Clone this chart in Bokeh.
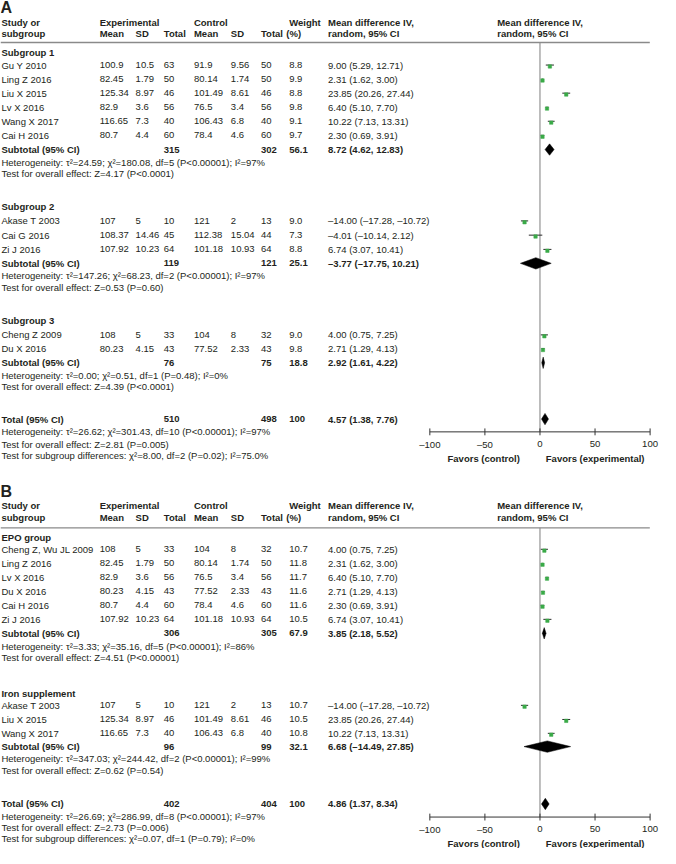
from bokeh.plotting import figure
from bokeh.models import Range1d, ColumnDataSource
from bokeh.embed import file_html
from bokeh.resources import INLINE
from bokeh.core.properties import value

# ---------------- DATA: panel A ----------------
a_groups = ["Subgroup 1", "Subgroup 2", "Subgroup 3"]
a_study = ["Gu Y 2010", "Ling Z 2016", "Liu X 2015", "Lv X 2016", "Wang X 2017", "Cai H 2016",
           "Akase T 2003", "Cai G 2016", "Zi J 2016", "Cheng Z 2009", "Du X 2016"]
a_exp_mean = [100.9, 82.45, 125.34, 82.9, 116.65, 80.7, 107, 108.37, 107.92, 108, 80.23]
a_exp_sd = [10.5, 1.79, 8.97, 3.6, 7.3, 4.4, 5, 14.46, 10.23, 5, 4.15]
a_exp_n = [63, 50, 46, 56, 40, 60, 10, 45, 64, 33, 43]
a_ctl_mean = [91.9, 80.14, 101.49, 76.5, 106.43, 78.4, 121, 112.38, 101.18, 104, 77.52]
a_ctl_sd = [9.56, 1.74, 8.61, 3.4, 6.8, 4.6, 2, 15.04, 10.93, 8, 2.33]
a_ctl_n = [50, 50, 46, 56, 40, 60, 13, 44, 64, 32, 43]
a_weight = [8.8, 9.9, 8.8, 9.8, 9.1, 9.7, 9.0, 7.3, 8.8, 9.0, 9.8]
a_md = [9.00, 2.31, 23.85, 6.40, 10.22, 2.30, -14.00, -4.01, 6.74, 4.00, 2.71]
a_lo = [5.29, 1.62, 20.26, 5.10, 7.13, 0.69, -17.28, -10.14, 3.07, 0.75, 1.29]
a_hi = [12.71, 3.00, 27.44, 7.70, 13.31, 3.91, -10.72, 2.12, 10.41, 7.25, 4.13]
a_sub_exp_n = [315, 119, 76]
a_sub_ctl_n = [302, 121, 75]
a_sub_weight = [56.1, 25.1, 18.8]
a_sub_md = [8.72, -3.77, 2.92]
a_sub_lo = [4.62, -17.75, 1.61]
a_sub_hi = [12.83, 10.21, 4.22]
a_sub_het = ["Heterogeneity: τ²=24.59; χ²=180.08, df=5 (P<0.00001); I²=97%",
             "Heterogeneity: τ²=147.26; χ²=68.23, df=2 (P<0.00001); I²=97%",
             "Heterogeneity: τ²=0.00; χ²=0.51, df=1 (P=0.48); I²=0%"]
a_sub_z = ["Test for overall effect: Z=4.17 (P<0.0001)",
           "Test for overall effect: Z=0.53 (P=0.60)",
           "Test for overall effect: Z=4.39 (P<0.0001)"]
a_tot = [510, 498, 100, 4.57, 1.38, 7.76]
a_tot_notes = ["Heterogeneity: τ²=26.62; χ²=301.43, df=10 (P<0.00001); I²=97%",
               "Test for overall effect: Z=2.81 (P=0.005)",
               "Test for subgroup differences: χ²=8.00, df=2 (P=0.02); I²=75.0%"]

# ---------------- DATA: panel B ----------------
b_groups = ["EPO group", "Iron supplement"]
b_study = ["Cheng Z, Wu JL 2009", "Ling Z 2016", "Lv X 2016", "Du X 2016", "Cai H 2016", "Zi J 2016",
           "Akase T 2003", "Liu X 2015", "Wang X 2017"]
b_exp_mean = [108, 82.45, 82.9, 80.23, 80.7, 107.92, 107, 125.34, 116.65]
b_exp_sd = [5, 1.79, 3.6, 4.15, 4.4, 10.23, 5, 8.97, 7.3]
b_exp_n = [33, 50, 56, 43, 60, 64, 10, 46, 40]
b_ctl_mean = [104, 80.14, 76.5, 77.52, 78.4, 101.18, 121, 101.49, 106.43]
b_ctl_sd = [8, 1.74, 3.4, 2.33, 4.6, 10.93, 2, 8.61, 6.8]
b_ctl_n = [32, 50, 56, 43, 60, 64, 13, 46, 40]
b_weight = [10.7, 11.8, 11.7, 11.6, 11.6, 10.5, 10.7, 10.5, 10.8]
b_md = [4.00, 2.31, 6.40, 2.71, 2.30, 6.74, -14.00, 23.85, 10.22]
b_lo = [0.75, 1.62, 5.10, 1.29, 0.69, 3.07, -17.28, 20.26, 7.13]
b_hi = [7.25, 3.00, 7.70, 4.13, 3.91, 10.41, -10.72, 27.44, 13.31]
b_sub_exp_n = [306, 96]
b_sub_ctl_n = [305, 99]
b_sub_weight = [67.9, 32.1]
b_sub_md = [3.85, 6.68]
b_sub_lo = [2.18, -14.49]
b_sub_hi = [5.52, 27.85]
b_sub_het = ["Heterogeneity: τ²=3.33; χ²=35.16, df=5 (P<0.00001); I²=86%",
             "Heterogeneity: τ²=347.03; χ²=244.42, df=2 (P<0.00001); I²=99%"]
b_sub_z = ["Test for overall effect: Z=4.51 (P<0.00001)",
           "Test for overall effect: Z=0.62 (P=0.54)"]
b_tot = [402, 404, 100, 4.86, 1.37, 8.34]
b_tot_notes = ["Heterogeneity: τ²=26.69; χ²=286.99, df=8 (P<0.00001); I²=97%",
               "Test for overall effect: Z=2.73 (P=0.006)",
               "Test for subgroup differences: χ²=0.07, df=1 (P=0.79); I²=0%"]

axis_ticks = [-100, -50, 0, 50, 100]
favors = ["Favors (control)", "Favors (experimental)"]

# ---------------- LAYOUT (reference pixel units) ----------------
FONT = "Liberation Sans"
TXT = "#231f20"
GREEN = "#3aaa48"
GRAY = "#8a8a8a"
FS = "9.5px"
COL = dict(study=1, em=102, esd=139, en=168, cm=199, csd=237, cn=268, w=297, pct=294, md=337, fh=511)
X0, K = 555.0, 1.133   # forest: zero position and px per unit
XR, YR = 679, 863

LAY_A = dict(letter=7, h1=22.7, h2=33.5, rule=42.7,
             groups=[52.7, 210, 325.3],
             studies=[65.7, 80, 94.3, 108.6, 122.9, 137.2, 224.3, 238.8, 253.3, 340.3, 354.3],
             subs=[151.7, 267.5, 368.7], het=[165.3, 280, 381.7], z=[176.5, 291.7, 392.7],
             total=426, notes=[438.7, 451.5, 463.5], axis=439)
LAY_B = dict(letter=500, h1=514, h2=526, rule=536.7,
             groups=[546.5, 705],
             studies=[558.5, 572.8, 587, 601.3, 615.5, 629.8, 717.3, 731.7, 745.8],
             subs=[644, 759.3], het=[657, 771.7], z=[668.7, 783.3],
             total=817.7, notes=[830, 841.7, 853.3], axis=831)

p = figure(width=660, height=848, x_range=Range1d(0, XR), y_range=Range1d(YR, 0),
           output_backend="svg", toolbar_location=None, min_border=0,
           x_axis_location=None, y_axis_location=None)
p.grid.visible = False
p.outline_line_color = None
p.extra_x_ranges = {"md": Range1d((0 - X0) / K, (XR - X0) / K)}


def txt(xs, ys, texts, bold=False, align="left", size=FS, rng="default"):
    src = ColumnDataSource(dict(x=list(xs), y=list(ys), t=list(texts)))
    p.text(x="x", y="y", text="t", source=src, text_font=value(FONT), text_font_size=value(size),
           text_font_style="bold" if bold else "normal", text_align=align, text_baseline="middle",
           text_color=TXT, x_range_name=rng)


def fmd(v):
    return f"{v:.2f}".replace("-", "–")


def fci(m, lo, hi):
    return f"{fmd(m)} ({fmd(lo)}, {fmd(hi)})"


def diamonds(ms, los, his, ys, h=5.8):
    xs = [[lo, m, hi, m] for m, lo, hi in zip(ms, los, his)]
    yy = [[y, y - h, y, y + h] for y in ys]
    p.patches(xs=xs, ys=yy, fill_color="black", line_color="black", line_width=0.5, x_range_name="md")


def panel(letter, L, groups, study, em, esd, en, cm, csd, cn, w, md, lo, hi,
          s_en, s_cn, s_w, s_md, s_lo, s_hi, s_het, s_z, tot, notes):
    txt([0], [L["letter"]], [letter], bold=True, size="16px")
    h1, h2 = L["h1"], L["h2"]
    txt([COL["study"], COL["em"], COL["cm"], COL["w"], COL["md"], COL["fh"]], [h1] * 6,
        ["Study or", "Experimental", "Control", "Weight", "Mean difference IV,", "Mean difference IV,"], bold=True)
    txt([COL["study"], COL["em"], COL["esd"], COL["en"], COL["cm"], COL["csd"], COL["cn"], COL["pct"], COL["md"], COL["fh"]],
        [h2] * 10, ["subgroup", "Mean", "SD", "Total", "Mean", "SD", "Total", "(%)", "random, 95% CI", "random, 95% CI"],
        bold=True)
    p.segment(x0=[0], x1=[668], y0=[L["rule"]], y1=[L["rule"]], line_color=GRAY, line_width=1.4)
    txt([COL["study"]] * len(groups), L["groups"], groups, bold=True)
    ys = L["studies"]
    n = len(study)
    txt([COL["study"]] * n, ys, study)
    for key, vals in (("em", em), ("esd", esd), ("en", en), ("cm", cm), ("csd", csd), ("cn", cn)):
        txt([COL[key]] * n, ys, [str(v) for v in vals])
    txt([COL["w"]] * n, ys, [f"{v:.1f}" for v in w])
    txt([COL["md"]] * n, ys, [fci(a, b, c) for a, b, c in zip(md, lo, hi)])
    # subtotals
    sy = L["subs"]
    k = len(sy)
    txt([COL["study"]] * k, sy, ["Subtotal (95% CI)"] * k, bold=True)
    txt([COL["en"]] * k, sy, [str(v) for v in s_en], bold=True)
    txt([COL["cn"]] * k, sy, [str(v) for v in s_cn], bold=True)
    txt([COL["w"]] * k, sy, [f"{v:.1f}" for v in s_w], bold=True)
    txt([COL["md"]] * k, sy, [fci(a, b, c) for a, b, c in zip(s_md, s_lo, s_hi)], bold=True)
    txt([COL["study"]] * k, L["het"], s_het)
    txt([COL["study"]] * k, L["z"], s_z)
    # total
    ty = L["total"]
    txt([COL["study"], COL["en"], COL["cn"], COL["w"], COL["md"]], [ty] * 5,
        ["Total (95% CI)", str(tot[0]), str(tot[1]), str(tot[2]), fci(tot[3], tot[4], tot[5])], bold=True)
    txt([COL["study"]] * len(notes), L["notes"], notes)
    # forest: zero line
    ay = L["axis"]
    p.segment(x0=[0], x1=[0], y0=[L["rule"]], y1=[ay], line_color=GRAY, line_width=1.1, x_range_name="md")
    # CIs and squares
    p.segment(x0=lo, x1=hi, y0=ys, y1=ys, line_color="#2b2b2b", line_width=1.0, x_range_name="md")
    p.scatter(x=md, y=[y + 1.4 for y in ys], marker="square", size=3.4, fill_color=GREEN,
              line_color=GREEN, line_width=0.5, x_range_name="md")
    diamonds(s_md, s_lo, s_hi, sy)
    diamonds([tot[3]], [tot[4]], [tot[5]], [ty])
    # axis
    p.segment(x0=[axis_ticks[0]], x1=[axis_ticks[-1]], y0=[ay], y1=[ay], line_color="#333333",
              line_width=1.0, x_range_name="md")
    p.segment(x0=axis_ticks, x1=axis_ticks, y0=[ay - 3.5] * len(axis_ticks), y1=[ay + 3.5] * len(axis_ticks),
              line_color="#333333", line_width=1.0, x_range_name="md")
    txt(axis_ticks, [ay + 12.5] * len(axis_ticks), [str(t).replace("-", "–") for t in axis_ticks],
        align="center", size="9.6px", rng="md")
    txt([534.3], [ay + 27], [favors[0]], bold=True, align="right")
    txt([561], [ay + 27], [favors[1]], bold=True, align="left")


panel("A", LAY_A, a_groups, a_study, a_exp_mean, a_exp_sd, a_exp_n, a_ctl_mean, a_ctl_sd, a_ctl_n,
      a_weight, a_md, a_lo, a_hi, a_sub_exp_n, a_sub_ctl_n, a_sub_weight, a_sub_md, a_sub_lo, a_sub_hi,
      a_sub_het, a_sub_z, a_tot, a_tot_notes)
panel("B", LAY_B, b_groups, b_study, b_exp_mean, b_exp_sd, b_exp_n, b_ctl_mean, b_ctl_sd, b_ctl_n,
      b_weight, b_md, b_lo, b_hi, b_sub_exp_n, b_sub_ctl_n, b_sub_weight, b_sub_md, b_sub_lo, b_sub_hi,
      b_sub_het, b_sub_z, b_tot, b_tot_notes)

open("out.html", "w").write(file_html(p, INLINE))
